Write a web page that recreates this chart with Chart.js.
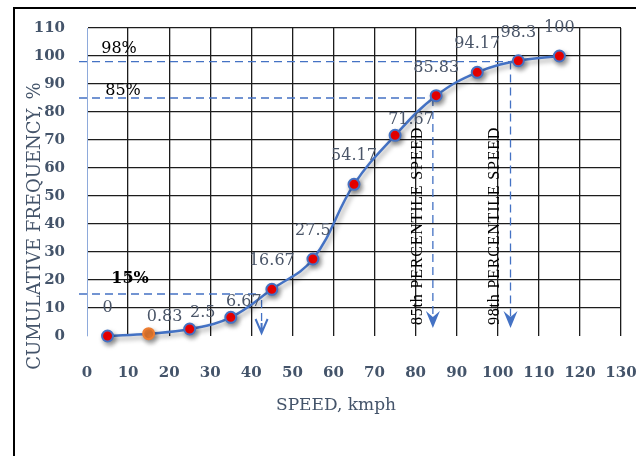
<!DOCTYPE html>
<html>
<head>
<meta charset="utf-8">
<script src="https://cdn.jsdelivr.net/npm/chart.js@4.4.1/dist/chart.umd.min.js"></script>
<style>
body { margin: 0; background: #fff; }
#wrap { position: relative; width: 636px; height: 456px; overflow: hidden; }
#frame { position: absolute; left: 13px; top: 7px; width: 700px; height: 600px; border: 2px solid #000; }
#grafico { position: absolute; left: 0; top: 0; }
</style>
</head>
<body>
<div id="wrap">
    <div id="frame"></div>
    <canvas id="grafico" width="636" height="456"></canvas>
</div>
<script>
// class mid speeds and cumulative frequency
var speeds = [5, 15, 25, 35, 45, 55, 65, 75, 85, 95, 105, 115]
var cumFreq = [0, 0.83, 2.5, 6.67, 16.67, 27.5, 54.17, 71.67, 85.83, 94.17, 98.3, 100]

var speedTicks = [0, 10, 20, 30, 40, 50, 60, 70, 80, 90, 100, 110, 120, 130]
var freqTicks = [0, 10, 20, 30, 40, 50, 60, 70, 80, 90, 100, 110]

// percentiles
var pctLevels = [15, 85, 98]
var pctSpeeds = [42.5, 84.2, 103.1]
var pctLabels = ['15%', '85%', '98%']

var slate = '#44546a'
var blue = '#4472c4'

function arrowHead(ctx, x, y) {
    ctx.beginPath()
    ctx.moveTo(x, y)
    ctx.lineTo(x - 7, y - 17)
    ctx.lineTo(x, y - 11)
    ctx.lineTo(x + 7, y - 17)
    ctx.closePath()
    ctx.fill()
}

var markup = {
    id: 'markup',
    beforeDatasetsDraw(chart) {
        var ctx = chart.ctx
        var x = chart.scales.x
        var y = chart.scales.y
        var base = y.getPixelForValue(0)

        ctx.save()
        ctx.strokeStyle = blue
        ctx.fillStyle = blue
        ctx.lineWidth = 1.3
        pctLevels.forEach((lvl, i) => {
            var px = x.getPixelForValue(pctSpeeds[i])
            var py = y.getPixelForValue(lvl)
            var tip = i == 0 ? base - 3 : base - 8

            ctx.setLineDash([8, 5])
            ctx.beginPath()
            ctx.moveTo(x.left - 8, py)
            ctx.lineTo(i == 0 ? px - 4 : px, py)
            ctx.stroke()

            ctx.beginPath()
            ctx.moveTo(px, i == 0 ? py + 6 : py)
            ctx.lineTo(px, tip - 8)
            ctx.stroke()
            ctx.setLineDash([])

            if (i == 0) {
                ctx.lineWidth = 2
                ctx.beginPath()
                ctx.moveTo(px - 6, tip - 14)
                ctx.lineTo(px, tip)
                ctx.lineTo(px + 6, tip - 14)
                ctx.moveTo(px, tip)
                ctx.lineTo(px, tip - 10)
                ctx.stroke()
                ctx.lineWidth = 1.3
            } else {
                arrowHead(ctx, px, tip)
            }
        })
        ctx.restore()

        // soft shadow under the curve and markers
        ctx.save()
        ctx.shadowColor = 'rgba(0,0,0,0.4)'
        ctx.shadowBlur = 5
        ctx.shadowOffsetX = 2
        ctx.shadowOffsetY = 3
    },
    afterDatasetsDraw(chart) {
        var ctx = chart.ctx
        ctx.restore()

        var x = chart.scales.x
        var y = chart.scales.y
        var meta = chart.getDatasetMeta(0)

        // value labels, a few nudged aside
        var labelShift = { 1: [16, 11], 2: [13, 12], 3: [13, 13], 7: [16, 13] }
        ctx.save()
        ctx.font = '16px "DejaVu Serif"'
        ctx.fillStyle = '#4a5568'
        ctx.textAlign = 'center'
        ctx.textBaseline = 'middle'
        meta.data.forEach((pt, i) => {
            var s = labelShift[i] || [0, 0]
            ctx.fillText(String(cumFreq[i]), pt.x + s[0], pt.y - 28 + s[1])
        })

        // percent tags on the dashed lines
        var tagPos = [[43, -15], [36, -7], [32, -13]]
        ctx.fillStyle = '#000'
        pctLabels.forEach((txt, i) => {
            ctx.font = (i == 0 ? 'bold ' : '') + '16px "DejaVu Serif"'
            ctx.fillText(txt, x.left + tagPos[i][0], y.getPixelForValue(pctLevels[i]) + tagPos[i][1])
        })

        // vertical captions beside the arrows
        ctx.font = '16px "Liberation Serif"'
        ctx.letterSpacing = '0.8px'
        ctx.textAlign = 'left'
        for (var i = 1; i < pctLevels.length; i++) {
            ctx.save()
            ctx.translate(x.getPixelForValue(pctSpeeds[i]) - 15.5, y.getPixelForValue(0) - 11)
            ctx.rotate(-Math.PI / 2)
            ctx.fillText(`${pctLevels[i]}th PERCENTILE SPEED`, 0, 0)
            ctx.restore()
        }
        ctx.letterSpacing = '0px'

        // axis titles
        ctx.fillStyle = slate
        ctx.textAlign = 'center'
        ctx.font = '17px "DejaVu Serif"'
        ctx.fillText('SPEED, kmph', x.left + 249, y.bottom + 70)
        ctx.save()
        ctx.translate(35, y.bottom - 110)
        ctx.rotate(-Math.PI / 2)
        ctx.font = '18px "DejaVu Serif"'
        ctx.fillText('CUMULATIVE FREQUENCY, %', 0, 0)
        ctx.restore()
        ctx.restore()
    }
}

var ctx = document.getElementById('grafico')

new Chart(ctx, {
    type: 'line',
    data: {
        datasets: [{
            data: speeds.map((s, i) => ({ x: s, y: cumFreq[i] })),
            borderColor: blue,
            borderWidth: 2.5,
            tension: 0.4,
            clip: false,
            pointRadius: 5.5,
            pointBorderWidth: 2,
            pointBackgroundColor: c => c.dataIndex == 1 ? '#ed7d31' : '#ff0000',
            pointBorderColor: c => c.dataIndex == 1 ? '#ed7d31' : blue
        }]
    },
    options: {
        responsive: false,
        animation: false,
        events: [],
        layout: { padding: { top: 28, right: 15, left: 0, bottom: 0 } },
        plugins: { legend: { display: false }, tooltip: { enabled: false } },
        scales: {
            x: {
                type: 'linear',
                min: 0,
                max: 130,
                afterBuildTicks: s => { s.ticks = speedTicks.map(v => ({ value: v })) },
                afterFit: s => {
                    s.height = 120
                    s.paddingLeft = 0
                    s.paddingRight = 0
                },
                border: { display: false },
                grid: {
                    drawTicks: false,
                    lineWidth: 1.3,
                    color: c => c.tick && c.tick.value == 0 ? 'rgba(0,0,0,0)' : '#1c1c1c'
                },
                ticks: {
                    padding: 28,
                    maxRotation: 0,
                    color: slate,
                    font: { family: 'DejaVu Serif', size: 15, weight: 'bold' }
                }
            },
            y: {
                min: 0,
                max: 110,
                afterBuildTicks: s => { s.ticks = freqTicks.map(v => ({ value: v })) },
                afterFit: s => {
                    s.width = 87
                    s.paddingTop = 0
                    s.paddingBottom = 0
                },
                border: { display: true, color: '#8eaadb', width: 1 },
                grid: {
                    drawTicks: false,
                    lineWidth: 1.3,
                    color: c => c.tick && c.tick.value == 0 ? 'rgba(0,0,0,0)' : '#1c1c1c'
                },
                ticks: {
                    padding: 22,
                    color: slate,
                    font: { family: 'DejaVu Serif', size: 15, weight: 'bold' }
                }
            }
        }
    },
    plugins: [markup]
})
</script>
</body>
</html>
